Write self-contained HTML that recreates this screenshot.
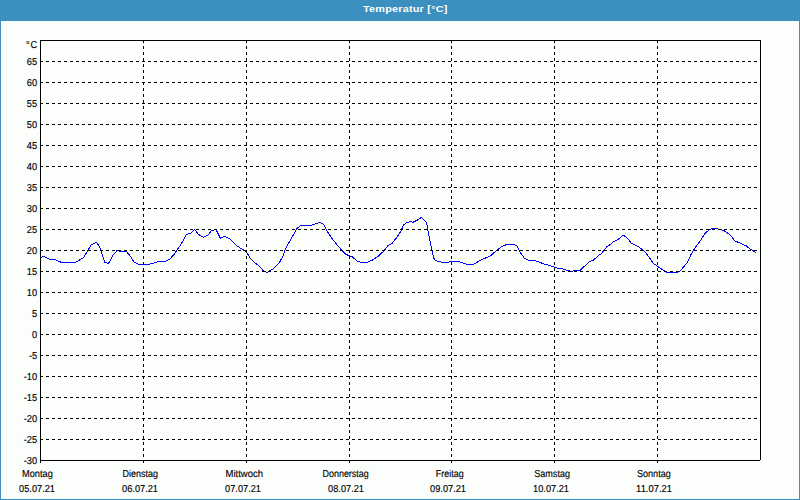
<!DOCTYPE html>
<html><head><meta charset="utf-8"><title>Temperatur</title>
<style>
html,body{margin:0;padding:0;}
body{width:800px;height:500px;overflow:hidden;background:#3c90c0;font-family:"Liberation Sans",sans-serif;}
#wrap{position:relative;width:800px;height:500px;background:#3c90c0;overflow:hidden;}
#title{position:absolute;left:362.9px;top:0.4px;width:200px;height:20px;line-height:17px;text-align:left;white-space:nowrap;color:#fff;font-weight:bold;font-size:9.5px;letter-spacing:0.2px;transform:scaleX(1.14);transform-origin:0 0;}
#panel{position:absolute;left:1px;top:21px;width:798px;height:478px;background:#fcfefc;}
svg{position:absolute;left:0;top:0;}
svg text{font-family:"Liberation Sans",sans-serif;font-size:9.3px;fill:#000;stroke:#000;stroke-width:0.14px;text-rendering:geometricPrecision;}
</style></head><body>
<div id="wrap">
<div id="title">Temperatur [°C]</div>
<div id="panel"></div>
<svg width="800" height="500" viewBox="0 0 800 500">
<path d="M41.00,257.60 L43.50,256.10 L49.75,259.50 L54.75,259.50 L61.60,262.50 L75.40,262.50 L83.50,257.60 L91.00,245.10 L96.60,242.40 L100.40,248.25 L104.50,262.00 L108.50,263.50 L113.50,254.50 L117.25,250.40 L121.00,251.60 L126.25,251.40 L130.00,255.75 L134.20,262.20 L138.75,264.50 L148.10,264.50 L153.75,263.00 L159.40,261.40 L165.60,261.10 L170.00,258.90 L174.40,253.90 L180.00,245.75 L183.75,239.50 L186.25,234.50 L190.60,233.25 L194.60,229.25 L198.50,234.50 L203.50,237.40 L208.50,234.75 L211.25,230.75 L216.00,229.50 L220.40,238.25 L224.40,236.40 L228.90,238.25 L237.75,246.40 L246.50,251.75 L250.25,258.25 L255.25,263.25 L259.00,265.75 L263.40,270.75 L267.10,272.60 L274.00,268.25 L279.00,263.25 L282.75,256.40 L285.25,249.50 L289.60,241.40 L294.00,233.90 L297.10,228.25 L300.90,225.40 L310.90,225.40 L315.25,223.90 L319.70,222.25 L323.80,224.50 L327.25,231.40 L332.25,238.90 L337.25,245.10 L342.25,250.75 L346.00,254.50 L351.60,256.40 L357.25,261.00 L361.00,262.50 L366.60,262.50 L372.25,260.10 L377.90,256.40 L384.10,250.75 L387.90,245.75 L391.60,243.90 L396.60,237.60 L400.40,232.00 L403.50,225.10 L406.00,223.00 L410.20,221.40 L413.00,222.30 L417.40,220.10 L421.50,217.25 L426.50,222.25 L428.60,234.50 L431.75,249.50 L434.25,259.50 L437.40,261.10 L443.00,262.50 L448.00,262.50 L451.75,261.10 L458.00,261.40 L463.00,263.00 L468.00,264.50 L473.00,264.50 L479.25,261.00 L485.50,258.00 L490.50,255.75 L495.50,251.40 L500.30,247.50 L506.50,244.50 L513.10,244.50 L516.90,245.50 L520.00,252.00 L524.40,258.25 L528.75,260.40 L535.60,260.75 L543.75,263.90 L550.00,265.50 L556.25,267.90 L562.50,268.90 L571.25,271.40 L574.40,270.75 L580.60,270.10 L589.40,261.40 L593.50,260.10 L599.80,254.30 L601.80,253.60 L603.80,250.30 L607.40,246.20 L609.00,245.20 L611.00,244.20 L613.25,241.75 L618.25,239.25 L623.25,235.10 L627.60,238.25 L631.40,243.25 L638.25,246.40 L644.50,251.40 L649.50,257.60 L653.25,263.25 L657.60,266.40 L663.90,270.75 L667.60,272.50 L676.70,272.50 L680.00,271.00 L687.40,262.60 L690.50,255.50 L694.75,248.25 L701.60,238.90 L704.75,233.50 L709.10,229.90 L712.25,228.50 L715.40,228.50 L721.00,229.50 L725.40,231.40 L729.75,234.50 L734.75,240.75 L739.75,243.00 L746.00,245.75 L751.00,249.50 L755.75,252.25" fill="none" stroke="#0000ff" stroke-width="1" stroke-linejoin="round" shape-rendering="crispEdges"/>
<g stroke="#000" stroke-width="1" stroke-dasharray="3 3" fill="none">
<line x1="40" y1="61.5" x2="760" y2="61.5"/>
<line x1="40" y1="82.5" x2="760" y2="82.5"/>
<line x1="40" y1="103.5" x2="760" y2="103.5"/>
<line x1="40" y1="124.5" x2="760" y2="124.5"/>
<line x1="40" y1="145.5" x2="760" y2="145.5"/>
<line x1="40" y1="166.5" x2="760" y2="166.5"/>
<line x1="40" y1="187.5" x2="760" y2="187.5"/>
<line x1="40" y1="208.5" x2="760" y2="208.5"/>
<line x1="40" y1="229.5" x2="760" y2="229.5"/>
<line x1="40" y1="250.5" x2="760" y2="250.5"/>
<line x1="40" y1="271.5" x2="760" y2="271.5"/>
<line x1="40" y1="292.5" x2="760" y2="292.5"/>
<line x1="40" y1="313.5" x2="760" y2="313.5"/>
<line x1="40" y1="334.5" x2="760" y2="334.5"/>
<line x1="40" y1="355.5" x2="760" y2="355.5"/>
<line x1="40" y1="376.5" x2="760" y2="376.5"/>
<line x1="40" y1="397.5" x2="760" y2="397.5"/>
<line x1="40" y1="418.5" x2="760" y2="418.5"/>
<line x1="40" y1="439.5" x2="760" y2="439.5"/>
</g>
<g stroke="#000" stroke-width="1" stroke-dasharray="3 3" fill="none">
<line x1="143.50" y1="40" x2="143.50" y2="460"/>
<line x1="246.50" y1="40" x2="246.50" y2="460"/>
<line x1="349.50" y1="40" x2="349.50" y2="460"/>
<line x1="451.50" y1="40" x2="451.50" y2="460"/>
<line x1="554.50" y1="40" x2="554.50" y2="460"/>
<line x1="657.50" y1="40" x2="657.50" y2="460"/>
</g>
<g stroke="#000" stroke-width="1"><line x1="40.5" y1="40" x2="40.5" y2="461"/><line x1="40" y1="40.5" x2="761" y2="40.5"/><line x1="760.5" y1="40" x2="760.5" y2="460"/><line x1="40" y1="460.5" x2="760" y2="460.5"/></g>
<g stroke="#000" stroke-width="1">
<line x1="40.50" y1="461" x2="40.50" y2="463"/>
<line x1="143.50" y1="461" x2="143.50" y2="463"/>
<line x1="246.50" y1="461" x2="246.50" y2="463"/>
<line x1="349.50" y1="461" x2="349.50" y2="463"/>
<line x1="451.50" y1="461" x2="451.50" y2="463"/>
<line x1="554.50" y1="461" x2="554.50" y2="463"/>
<line x1="657.50" y1="461" x2="657.50" y2="463"/>
</g>
<g>
<text transform="translate(37.2,65.0) scale(1,1.08)" text-anchor="end">65</text>
<text transform="translate(37.2,86.0) scale(1,1.08)" text-anchor="end">60</text>
<text transform="translate(37.2,107.0) scale(1,1.08)" text-anchor="end">55</text>
<text transform="translate(37.2,128.0) scale(1,1.08)" text-anchor="end">50</text>
<text transform="translate(37.2,149.0) scale(1,1.08)" text-anchor="end">45</text>
<text transform="translate(37.2,170.0) scale(1,1.08)" text-anchor="end">40</text>
<text transform="translate(37.2,191.0) scale(1,1.08)" text-anchor="end">35</text>
<text transform="translate(37.2,212.0) scale(1,1.08)" text-anchor="end">30</text>
<text transform="translate(37.2,233.0) scale(1,1.08)" text-anchor="end">25</text>
<text transform="translate(37.2,254.0) scale(1,1.08)" text-anchor="end">20</text>
<text transform="translate(37.2,275.0) scale(1,1.08)" text-anchor="end">15</text>
<text transform="translate(37.2,296.0) scale(1,1.08)" text-anchor="end">10</text>
<text transform="translate(37.2,317.0) scale(1,1.08)" text-anchor="end">5</text>
<text transform="translate(37.2,338.0) scale(1,1.08)" text-anchor="end">0</text>
<text transform="translate(37.2,359.0) scale(1,1.08)" text-anchor="end">-5</text>
<text transform="translate(37.2,380.0) scale(1,1.08)" text-anchor="end">-10</text>
<text transform="translate(37.2,401.0) scale(1,1.08)" text-anchor="end">-15</text>
<text transform="translate(37.2,422.0) scale(1,1.08)" text-anchor="end">-20</text>
<text transform="translate(37.2,443.0) scale(1,1.08)" text-anchor="end">-25</text>
<text transform="translate(37.2,464.0) scale(1,1.08)" text-anchor="end">-30</text>
<text transform="translate(37.2,48) scale(1,1.08)" text-anchor="end">°<tspan dx="0.8">C</tspan></text>
<text transform="translate(22.00,476.8) scale(1,1.08)" textLength="30.80" lengthAdjust="spacingAndGlyphs">Montag</text>
<text transform="translate(19.10,491.8) scale(1,1.08)" textLength="35.9" lengthAdjust="spacingAndGlyphs">05.07.21</text>
<text transform="translate(122.50,476.8) scale(1,1.08)" textLength="35.50" lengthAdjust="spacingAndGlyphs">Dienstag</text>
<text transform="translate(122.10,491.8) scale(1,1.08)" textLength="35.9" lengthAdjust="spacingAndGlyphs">06.07.21</text>
<text transform="translate(225.50,476.8) scale(1,1.08)" textLength="37.50" lengthAdjust="spacingAndGlyphs">Mittwoch</text>
<text transform="translate(225.10,491.8) scale(1,1.08)" textLength="35.9" lengthAdjust="spacingAndGlyphs">07.07.21</text>
<text transform="translate(322.50,476.8) scale(1,1.08)" textLength="46.25" lengthAdjust="spacingAndGlyphs">Donnerstag</text>
<text transform="translate(328.10,491.8) scale(1,1.08)" textLength="35.9" lengthAdjust="spacingAndGlyphs">08.07.21</text>
<text transform="translate(435.75,476.8) scale(1,1.08)" textLength="28.00" lengthAdjust="spacingAndGlyphs">Freitag</text>
<text transform="translate(430.10,491.8) scale(1,1.08)" textLength="35.9" lengthAdjust="spacingAndGlyphs">09.07.21</text>
<text transform="translate(534.25,476.8) scale(1,1.08)" textLength="35.75" lengthAdjust="spacingAndGlyphs">Samstag</text>
<text transform="translate(533.10,491.8) scale(1,1.08)" textLength="35.9" lengthAdjust="spacingAndGlyphs">10.07.21</text>
<text transform="translate(637.00,476.8) scale(1,1.08)" textLength="33.75" lengthAdjust="spacingAndGlyphs">Sonntag</text>
<text transform="translate(636.10,491.8) scale(1,1.08)" textLength="35.9" lengthAdjust="spacingAndGlyphs">11.07.21</text>
</g>
</svg>
</div>
</body></html>
